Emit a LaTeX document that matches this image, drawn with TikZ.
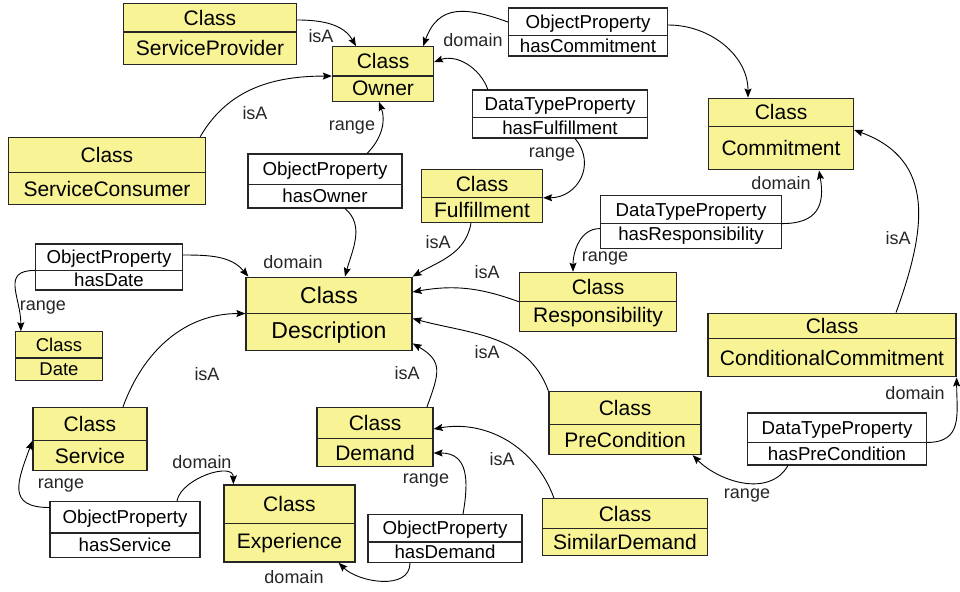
\documentclass[tikz,border=0pt]{standalone}
\usepackage{fontspec}
\setmainfont{Liberation Sans}
\usepackage{tikz}
\usetikzlibrary{shapes.multipart,positioning,arrows.meta}
\definecolor{classfill}{RGB}{248,244,150}

\begin{document}
\begin{tikzpicture}[x=1pt,y=-1pt,->,>={Stealth[length=9pt,width=7pt,inset=1.5pt]},
   line width=0.9pt,on grid,
   cls/.style={rectangle split,rectangle split parts=2,draw=black!85,line width=1.3pt,
     fill=classfill,font=\fontsize{21}{25}\selectfont,text height=17pt,text depth=2pt},
   prop/.style={cls,fill=white,font=\fontsize{18.7}{22}\selectfont,text height=17pt,text depth=3.6pt},
   lbl/.style={font=\fontsize{18}{21}\selectfont,inner sep=0pt,text=black!85}]
   \useasboundingbox (0,0) rectangle (960,591);
   % classes and properties
   \node[cls,font=\fontsize{23}{27}\selectfont,text height=18.5pt,minimum width=166pt,inner ysep=7.25pt] (Desc) at (329,314) {Class\nodepart{two}Description};
   \node[cls,minimum width=101pt,inner ysep=4.5pt] (Owner) [above right=240pt and 54pt of Desc] {Class\nodepart{two}Owner};
   \node[prop,minimum width=154pt,inner ysep=4.2pt] (hasOwner) [above left=133pt and 4pt of Desc] {ObjectProperty\nodepart{two}hasOwner};
   \node[cls,text height=,text depth=,minimum width=173pt,inner ysep=4pt] (SP) [above left=40pt and 173pt of Owner]
     {\raisebox{0pt}[17pt][2pt]{Class}\nodepart{two}\raisebox{0pt}[19pt][4pt]{ServiceProvider}};
   \node[cls,minimum width=197pt,inner ysep=7.5pt] (SC) [above left=10pt and 218pt of hasOwner] {Class\nodepart{two}ServiceConsumer};
   \node[prop,minimum width=159pt,inner ysep=2.7pt] (hasCommit) [above right=42pt and 205pt of Owner] {ObjectProperty\nodepart{two}hasCommitment};
   \node[prop,minimum width=175pt,inner ysep=2.7pt] (hasFulfil) [below left=82pt and 28pt of hasCommit] {DataTypeProperty\nodepart{two}hasFulfillment};
   \node[cls,text height=,text depth=,minimum width=145pt,inner ysep=4.5pt] (Commit) [below right=20pt and 221pt of hasFulfil]
     {\raisebox{0pt}[16.5pt][1.5pt]{Class}\nodepart{two}\raisebox{0pt}[24pt][9pt]{Commitment}};
   \node[cls,minimum width=121pt,inner ysep=4pt] (Fulfil) [below left=82pt and 78pt of hasFulfil] {Class\nodepart{two}Fulfillment};
   \node[prop,minimum width=181pt,inner ysep=3.2pt] (hasResp) [below left=88pt and 90pt of Commit] {DataTypeProperty\nodepart{two}hasResponsibility};
   \node[cls,minimum width=157pt,inner ysep=4.5pt] (Resp) [below left=80pt and 93pt of hasResp] {Class\nodepart{two}Responsibility};
   \node[prop,minimum width=147pt,inner ysep=2.2pt] (hasDate) [above left=47pt and 220pt of Desc] {ObjectProperty\nodepart{two}hasDate};
   \node[cls,font=\fontsize{18.5}{22}\selectfont,text height=15.2pt,minimum width=87pt,inner ysep=3.9pt] (Date) [below left=89pt and 50pt of hasDate] {Class\nodepart{two}Date};
   \node[cls,text height=,text depth=,minimum width=248pt,inner ysep=3pt] (CondCommit) [below right=211pt and 51pt of Commit]
     {\raisebox{0pt}[16.5pt][1.5pt]{Class}\nodepart{two}\raisebox{0pt}[23pt][8pt]{ConditionalCommitment}};
   \node[prop,minimum width=179pt,inner ysep=3.7pt] (hasPreCond) [below right=94pt and 5pt of CondCommit] {DataTypeProperty\nodepart{two}hasPreCondition};
   \node[cls,minimum width=152pt,inner ysep=6.5pt] (PreCond) [above left=16pt and 212pt of hasPreCond] {Class\nodepart{two}PreCondition};
   \node[cls,minimum width=165pt,inner ysep=5pt] (SimDemand) [below=104pt of PreCond] {Class\nodepart{two}SimilarDemand};
   \node[cls,minimum width=116pt,inner ysep=5.5pt] (Demand) [below right=123pt and 46pt of Desc] {Class\nodepart{two}Demand};
   \node[prop,minimum width=154pt,inner ysep=2.7pt] (hasDemand) [below right=101.5pt and 70pt of Demand] {ObjectProperty\nodepart{two}hasDemand};
   \node[cls,minimum width=131pt,inner ysep=9pt] (Exper) [below left=86.5pt and 85.5pt of Demand] {Class\nodepart{two}Experience};
   \node[cls,minimum width=114pt,inner ysep=6.5pt] (Service) [below left=125pt and 239pt of Desc] {Class\nodepart{two}Service};
   \node[prop,minimum width=150pt,inner ysep=4.7pt] (hasService) [below right=90.5pt and 35pt of Service] {ObjectProperty\nodepart{two}hasService};
   % links
   \path
    ([yshift=14pt]SP.east) edge[out=0,in=120] ([xshift=-27pt]Owner.north)
      node[lbl] at (321,36) {isA}
    ([xshift=-6pt]SC.north east) edge[out=60,in=180] (Owner.text split west)
      node[lbl] at (255,113) {isA}
    ([yshift=10pt]hasCommit.west) edge[out=160,in=70,looseness=1.3] ([xshift=-11pt]Owner.north east)
      node[lbl] at (473,40) {domain}
    ([xshift=16pt]hasFulfil.north west) edge[out=110,in=20] ([yshift=12pt]Owner.east)
    ([yshift=7pt]hasCommit.east) edge[out=0,in=90] ([xshift=-33pt]Commit.north)
    ([xshift=15pt]hasFulfil.south) edge[out=-50,in=0,looseness=1.3] (Fulfil.text split east)
      node[lbl] at (552,155) {range}
    ([xshift=42pt]hasOwner.north) edge[out=45,in=-70] ([xshift=-4pt]Owner.south)
      node[lbl] at (352,128) {range}
    ([xshift=20pt]hasOwner.south) edge[out=-40,in=75] ([xshift=16pt]Desc.north)
    ([yshift=12pt]hasDate.east) edge[out=0,in=130] ([xshift=3pt]Desc.north west)
      node[lbl] at (293,262) {domain}
    (hasDate.text split west) edge[out=180,in=90,looseness=1.4] ([xshift=6pt]Date.north west)
      node[lbl] at (43,308) {range}
    ([xshift=-11pt]Fulfil.south) edge[out=-100,in=30] (Desc.north east)
      node[lbl] at (438,242) {isA}
    (Resp.text split west) edge[out=160,in=10] ([yshift=22pt]Desc.east)
      node[lbl] at (487,272) {isA}
    (hasResp.text split east) edge[out=0,in=-80,looseness=1.4] ([xshift=38pt]Commit.south)
      node[lbl] at (781,183) {domain}
    ([yshift=-5pt]hasResp.text split west) edge[out=180,in=90] ([xshift=-25pt]Resp.north)
      node[lbl] at (605,259) {range}
    ([xshift=64pt]CondCommit.north) edge[out=70,in=-20,looseness=1.2] ([yshift=4pt]Commit.east)
      node[lbl] at (898,238) {isA}
    (hasPreCond.text split east) edge[out=0,in=-90,looseness=1.3] (CondCommit.south east)
      node[lbl] at (915,393) {domain}
    ([xshift=-49pt]hasPreCond.south) edge[out=-120,in=-45] ([xshift=-9pt]PreCond.south east)
      node[lbl] at (747,496) {range}
    (PreCond.north west) edge[out=110,in=-15] ([yshift=-5pt]Desc.text split east)
      node[lbl] at (487,352) {isA}
    ([xshift=52pt]Demand.north) edge[out=70,in=-30,looseness=1.4] ([yshift=8pt]Desc.south east)
      node[lbl] at (407,373) {isA}
    ([xshift=33pt]Service.north) edge[out=70,in=180] (Desc.text split west)
      node[lbl] at (207,374) {isA}
    ([xshift=12pt]SimDemand.north west) edge[out=110,in=10] ([yshift=8pt]Demand.east)
      node[lbl] at (502,459) {isA}
    ([xshift=18pt]hasDemand.north) edge[out=80,in=0,looseness=1.3] ([yshift=-16pt]Demand.east)
      node[lbl] at (426,481) {range}
    ([xshift=-35pt]hasDemand.south) edge[out=-90,in=-45] ([xshift=-17pt]Exper.south east)
      node[lbl] at (294,577) {domain}
    ([xshift=52pt]hasService.north) edge[out=80,in=90] ([xshift=10pt]Exper.north west)
      node[lbl] at (202,462) {domain}
    ([yshift=22pt]hasService.west) edge[out=180,in=-110,looseness=1.6] (Service.text split west)
      node[lbl] at (61,486) {range};
\end{tikzpicture}
\end{document}
